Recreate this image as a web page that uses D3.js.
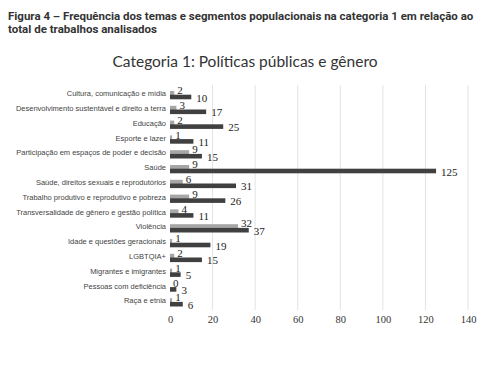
<!DOCTYPE html>
<html>
<head>
<meta charset="utf-8">
<script src="https://cdn.jsdelivr.net/npm/d3@7"></script>
<style>
  body { margin: 0; background: #fff; }
</style>
</head>
<body>
<div id="chart"></div>
<script>
// categorias e valores (claro = primeira série, escuro = segunda série)
const categories = [
  "Cultura, comunicação e mídia",
  "Desenvolvimento sustentável e direito a terra",
  "Educação",
  "Esporte e lazer",
  "Participação em espaços de poder e decisão",
  "Saúde",
  "Saúde, direitos sexuais e reprodutórios",
  "Trabalho produtivo e reprodutivo e pobreza",
  "Transversalidade de gênero e gestão política",
  "Violência",
  "Idade e questões  geracionais",
  "LGBTQIA+",
  "Migrantes e imigrantes",
  "Pessoas com deficiência",
  "Raça e etnia"
]
const lightValues = [2, 3, 2, 1, 9, 9, 6, 9, 4, 32, 1, 2, 1, 0, 1]
const darkValues = [10, 17, 25, 11, 15, 125, 31, 26, 11, 37, 19, 15, 5, 3, 6]
const xTicks = [0, 20, 40, 60, 80, 100, 120, 140]

const width = 503, height = 368

let svg = d3.select("#chart")
    .append("svg")
    .attr("width", width)
    .attr("height", height)

// titulo da figura
let fig = svg.append("g")
    .attr("font-family", "Roboto")
    .attr("font-weight", "bold")
    .attr("font-size", 11.5)
    .attr("fill", "#333")
fig.append("text").attr("x", 8).attr("y", 19.5)
    .text("Figura 4 – Frequência dos temas e segmentos populacionais na categoria 1 em relação ao")
fig.append("text").attr("x", 8).attr("y", 33)
    .text("total de trabalhos analisados")

svg.append("text")
    .attr("x", 245)
    .attr("y", 67)
    .attr("text-anchor", "middle")
    .attr("font-family", "Lato")
    .attr("font-size", 15.5)
    .attr("fill", "#333")
    .text("Categoria 1: Políticas públicas e gênero")

let x = d3.scaleLinear()
    .domain([0, 140])
    .range([170, 468])

let y = d3.scaleBand()
    .domain(categories)
    .range([86.5, 86.5 + 14.8 * categories.length])

// grade vertical
svg.append("g")
    .selectAll("line")
    .data(xTicks.filter(d => d > 0))
    .join("line")
    .attr("x1", d => x(d))
    .attr("x2", d => x(d))
    .attr("y1", 85)
    .attr("y2", 310)
    .attr("stroke", "#e3e3e3")
    .attr("stroke-width", 1)

// eixo x (somente rótulos)
let xAxis = svg.append("g")
    .attr("transform", "translate(0,310)")
    .call(d3.axisBottom(x).tickValues(xTicks).tickSize(0).tickPadding(6))
xAxis.select(".domain").remove()
xAxis.selectAll("text")
    .attr("font-family", "Liberation Serif")
    .attr("font-size", 10.5)
    .attr("fill", "#333")

// rótulos das categorias
svg.append("g")
    .selectAll("text")
    .data(categories)
    .join("text")
    .attr("x", 166)
    .attr("y", d => y(d) + 7)
    .attr("dy", "0.35em")
    .attr("text-anchor", "end")
    .attr("font-family", "Liberation Sans")
    .attr("font-size", 7.5)
    .attr("fill", "#444")
    .text(d => d)

let rows = categories.map((c, i) => ({cat: c, light: lightValues[i], dark: darkValues[i]}))

svg.append("g")
    .selectAll("rect")
    .data(rows)
    .join("rect")
    .attr("x", x(0))
    .attr("y", d => y(d.cat) + 4.5)
    .attr("width", d => x(d.light) - x(0))
    .attr("height", 4.3)
    .attr("fill", "#a6a6a6")

svg.append("g")
    .selectAll("rect")
    .data(rows)
    .join("rect")
    .attr("x", x(0))
    .attr("y", d => y(d.cat) + 8.2)
    .attr("width", d => x(d.dark) - x(0))
    .attr("height", 4.6)
    .attr("fill", "#404040")

// valores
svg.append("g")
    .selectAll("text")
    .data(rows)
    .join("text")
    .attr("x", d => x(d.light) + 3)
    .attr("y", d => y(d.cat) + 3.8)
    .attr("dy", "0.35em")
    .attr("font-family", "Liberation Serif")
    .attr("font-size", 11)
    .attr("fill", "#222")
    .text(d => d.light)

svg.append("g")
    .selectAll("text")
    .data(rows)
    .join("text")
    .attr("x", d => x(d.dark) + 5)
    .attr("y", d => y(d.cat) + 11.2)
    .attr("dy", "0.35em")
    .attr("font-family", "Liberation Serif")
    .attr("font-size", 11)
    .attr("fill", "#222")
    .text(d => d.dark)
</script>
</body>
</html>
